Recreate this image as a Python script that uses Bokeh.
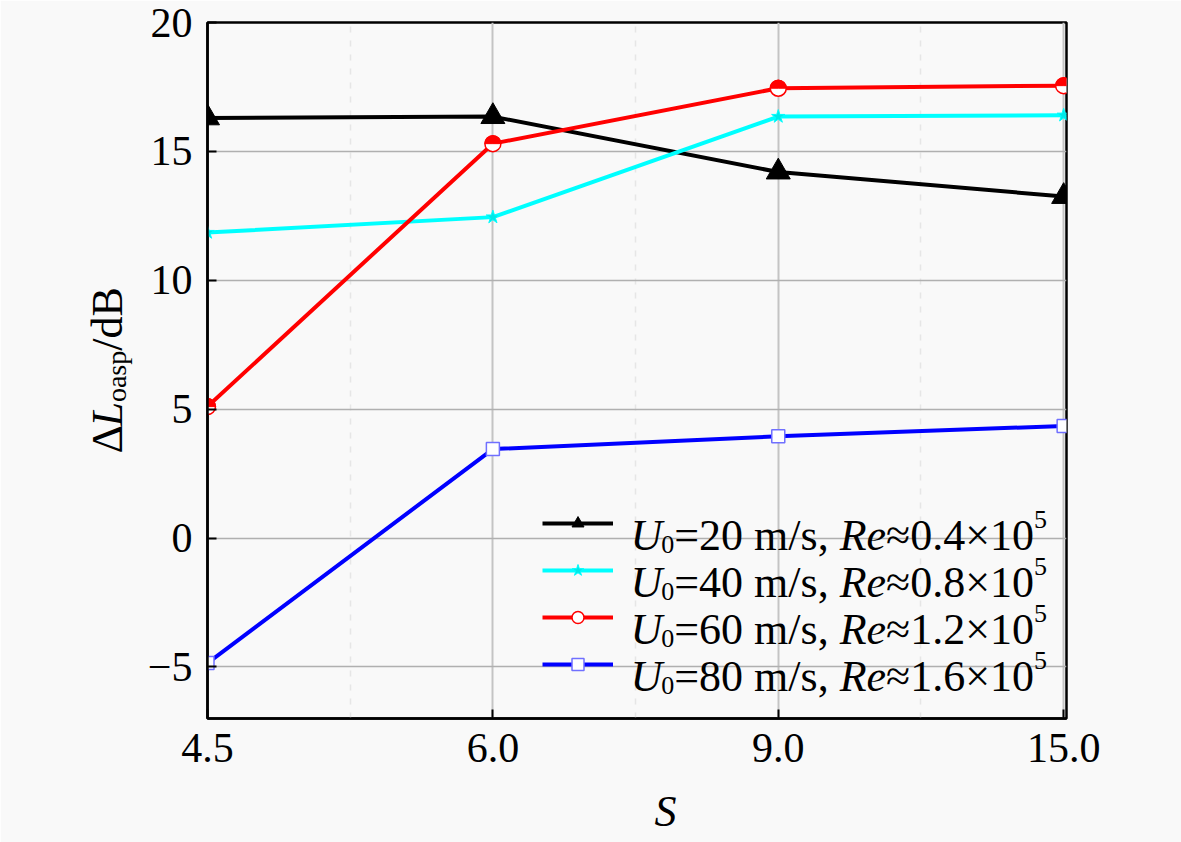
import math
from bokeh.plotting import figure
from bokeh.models import Range1d, FixedTicker, Label, Legend, LegendItem
from bokeh.embed import file_html
from bokeh.resources import INLINE

# ---------------- data ----------------
s_labels = ["4.5", "6.0", "9.0", "15.0"]
x_idx = [0, 1, 2, 3]
u20 = [16.3, 16.35, 14.2, 13.25]
u40 = [11.85, 12.45, 16.35, 16.4]
u60 = [5.1, 15.3, 17.45, 17.55]
u80 = [-4.85, 3.45, 3.95, 4.35]
y_ticks = [-5, 0, 5, 10, 15, 20]
y_tick_labels = ["\u22125", "0", "5", "10", "15", "20"]
speeds = ["20", "40", "60", "80"]
re_vals = ["0.4", "0.8", "1.2", "1.6"]

FONT = "Liberation Serif"
BG = "#f9f9f9"

p = figure(width=1181, height=842, output_backend="svg", toolbar_location=None,
           x_range=Range1d(0, 3.01), y_range=Range1d(-7.0, 20),
           min_border_left=207, min_border_right=115, min_border_top=22, min_border_bottom=124,
           background_fill_color=BG, border_fill_color=BG)

p.outline_line_color = "black"
p.outline_line_width = 2.5

# axes
p.xaxis.ticker = FixedTicker(ticks=x_idx, minor_ticks=[0.5, 1.5, 2.5])
p.xaxis.major_label_overrides = {i: s for i, s in zip(x_idx, s_labels)}
p.yaxis.ticker = FixedTicker(ticks=y_ticks)
p.yaxis.major_label_overrides = {t: s for t, s in zip(y_ticks, y_tick_labels)}
for ax in (p.xaxis, p.yaxis):
    ax.axis_line_color = "black"
    ax.axis_line_width = 2.5
    ax.major_tick_in = 9
    ax.major_tick_out = 0
    ax.major_tick_line_color = "black"
    ax.major_tick_line_width = 2
    ax.minor_tick_in = 0
    ax.minor_tick_out = 0
    ax.major_label_text_font = FONT
    ax.major_label_text_font_size = "42px"
    ax.major_label_text_color = "black"
p.xaxis.major_label_standoff = 15
p.yaxis.major_label_standoff = 15

p.xgrid.grid_line_color = "#c4c4c4"
p.xgrid.grid_line_width = 2
p.xgrid.minor_grid_line_color = "#e6e6e6"
p.xgrid.minor_grid_line_dash = "6 8"
p.xgrid.minor_grid_line_width = 1.5
p.ygrid.grid_line_color = "#b0b0b0"
p.ygrid.grid_line_width = 1.5

# ---------------- series ----------------
l1 = p.line(x_idx, u20, line_color="black", line_width=4)
m1 = p.scatter(x_idx, u20, marker="triangle", size=24, fill_color="black", line_color="black")

l2 = p.line(x_idx, u40, line_color="#00ffff", line_width=4)
m2 = p.scatter(x_idx, u40, marker="star", size=14, fill_color="#00e8e8", line_color="#00ffff")

l3 = p.line(x_idx, u60, line_color="#ff0000", line_width=4)
m3 = p.scatter(x_idx, u60, marker="circle", size=16, fill_color="white", line_color="#ff0000", line_width=1.5)
p.wedge(x_idx, u60, radius=8, radius_units="screen", start_angle=0, end_angle=math.pi,
        fill_color="#ff0000", line_color="#ff0000", line_width=1)

l4 = p.line(x_idx, u80, line_color="#0000ff", line_width=4)
m4 = p.scatter(x_idx, u80, marker="square", size=13, fill_color="white", line_color="#7070ff", line_width=1.5)

# ---------------- legend ----------------
GH, SP = 30, 17
LX, LY = 335, 39
legend = Legend(items=[LegendItem(label=" ", renderers=[l1, m1]),
                       LegendItem(label=" ", renderers=[l2, m2]),
                       LegendItem(label=" ", renderers=[l3, m3]),
                       LegendItem(label=" ", renderers=[l4, m4])],
                location=(LX, LY), glyph_width=71, glyph_height=GH, label_height=GH,
                spacing=SP, padding=0, margin=0, label_text_font_size="1px",
                border_line_alpha=0, background_fill_alpha=0)
p.add_layout(legend)

# width tables (Liberation Serif, per 1000 em)
REG = {'0': 500, '1': 500, '2': 500, '3': 500, '4': 500, '5': 500, '6': 500, '7': 500,
       '8': 500, '9': 500, '=': 564, ' ': 250, 'm': 778, '/': 278, 's': 389, ',': 250,
       '.': 250, '\u00d7': 564, '\u2248': 549, '\u0394': 612, 'd': 500, 'B': 667,
       'o': 500, 'a': 444, 'p': 500}
ITA = {'U': 722, 'R': 611, 'e': 444, 'L': 556, 'S': 500}


def tw(text, size, italic):
    tab = ITA if italic else REG
    return sum(tab.get(c, 500) for c in text) / 1000.0 * size


F = 44
FS = 26
n = len(speeds)
TX = 423
for i, (sp, rv) in enumerate(zip(speeds, re_vals)):
    center = LY + (n - 1 - i) * (GH + SP) + GH / 2.0
    base = center - 12
    pieces = [("U", F, True, 0), ("0", FS, False, -9), ("=" + sp + " m/s,", F, False, 0),
              ("Re", F, True, 0), ("\u2248" + rv + "\u00d710", F, False, 0), ("5", FS, False, 16)]
    widths = [tw("U", F, True) - 1, tw("0", FS, False), tw("=" + sp + " m/s, ", F, False),
              tw("Re", F, True), tw("\u2248" + rv + "\u00d710", F, False), 0]
    x = TX
    for (txt, size, ital, dy), w in zip(pieces, widths):
        p.add_layout(Label(x=x, y=base + dy, x_units="screen", y_units="screen", text=txt,
                           text_font=FONT, text_font_size=f"{size}px",
                           text_font_style="italic" if ital else "normal",
                           text_color="black", text_baseline="alphabetic", text_align="left"))
        x += w

# y axis label (rotated) anchored in data space, split over side panels with spare room
YF, YS = 44, 28
ypieces = [("\u0394", YF, False, 0, "left"), ("L", YF, True, 0, "left"),
           ("oasp", YS, False, 9, "right"), ("/dB", YF, False, 0, "right")]
off = 0.0
for txt, size, ital, dx, side in ypieces:
    p.add_layout(Label(x=-0.350, y=3.28, x_offset=dx, y_offset=off, text=txt,
                       angle=math.pi / 2, text_font=FONT, text_font_size=f"{size}px",
                       text_font_style="italic" if ital else "normal",
                       text_color="black", text_baseline="alphabetic", text_align="left"), side)
    off += tw(txt, size, ital)

# x axis label
p.add_layout(Label(x=1.605, y=-10.61, text="S",
                   text_font=FONT, text_font_size="44px", text_font_style="italic",
                   text_color="black", text_baseline="alphabetic", text_align="center"), "below")

open("out.html", "w").write(file_html(p, INLINE))
